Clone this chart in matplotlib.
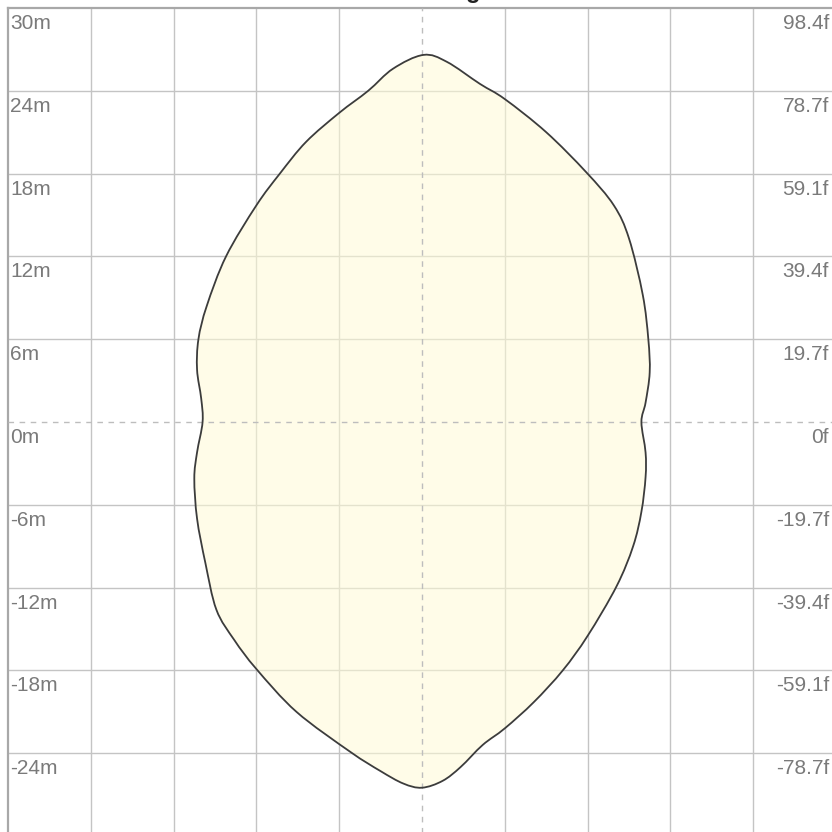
import numpy as np
import matplotlib
matplotlib.use("Agg")
import matplotlib.pyplot as plt
from matplotlib.path import Path
from matplotlib.patches import PathPatch

plt.rcParams["font.family"] = ["Liberation Sans", "DejaVu Sans"]

# Outline of the coverage shape in metres, clockwise from the top
shape_x = [0.1, 1.8, 4.2, 6.0, 9.0, 11.9, 13.9, 15.0, 16.0, 16.4, 16.5, 16.2,
           15.9, 16.2, 16.2, 15.9, 15.3, 14.1, 12.0, 10.2, 8.1, 6.0, 4.4, 2.8,
           1.5, 0.0, -1.35, -3.0, -5.2, -9.1, -12.0, -13.6, -14.9, -15.7,
           -16.3, -16.5, -16.3, -15.9, -16.0, -16.3, -16.2, -15.6, -14.2,
           -12.0, -10.3, -8.4, -6.0, -3.9, -2.1]
shape_y = [26.6, 26.1, 24.5, 23.4, 21.0, 18.1, 15.7, 13.3, 9.2, 6.0, 3.6, 1.4,
           0.0, -2.2, -4.0, -6.5, -9.0, -11.9, -15.5, -18.0, -20.3, -22.2,
           -23.4, -25.0, -26.0, -26.5, -26.2, -25.3, -23.9, -21.0, -17.9,
           -15.8, -13.6, -10.2, -7.0, -4.1, -2.2, 0.0, 1.7, 3.8, 6.0, 8.4,
           12.0, 15.7, 18.0, 20.3, 22.4, 24.0, 25.6]

# Grid rows / labels
grid_m = [24, 18, 12, 6, 0, -6, -12, -18, -24]
label_m = [30, 24, 18, 12, 6, 0, -6, -12, -18, -24]
label_m_text = ["30m", "24m", "18m", "12m", "6m", "0m", "-6m", "-12m", "-18m", "-24m"]
label_f_text = ["98.4f", "78.7f", "59.1f", "39.4f", "19.7f", "0f", "-19.7f",
                "-39.4f", "-59.1f", "-78.7f"]


def smooth_closed_path(xs, ys):
    # Catmull-Rom through the points, drawn as cubic Bezier segments
    pts = np.column_stack([xs, ys])
    n = len(pts)
    verts = [pts[0]]
    codes = [Path.MOVETO]
    for i in range(n):
        p0 = pts[(i - 1) % n]
        p1 = pts[i]
        p2 = pts[(i + 1) % n]
        p3 = pts[(i + 2) % n]
        c1 = p1 + (p2 - p0) / 6.0
        c2 = p2 - (p3 - p1) / 6.0
        verts += [c1, c2, p2]
        codes += [Path.CURVE4] * 3
    verts.append(pts[0])
    codes.append(Path.CLOSEPOLY)
    return Path(verts, codes)


fig = plt.figure(figsize=(8.32, 8.32), dpi=100)
ax = fig.add_axes([8 / 832, -4 / 832, 828 / 832, 828 / 832])
ax.set_xlim(-30, 30)
ax.set_ylim(-30, 30)
ax.set_xticks([])
ax.set_yticks([])

for s in ["left", "top"]:
    ax.spines[s].set_color("#a8a8a8")
    ax.spines[s].set_linewidth(1.6)
for s in ["right", "bottom"]:
    ax.spines[s].set_visible(False)

# Grid
for g in grid_m:
    if g == 0:
        ax.axhline(g, color="#bdbdbd", lw=1, ls=(0, (4, 4)), zorder=3)
        ax.axvline(g, color="#bdbdbd", lw=1, ls=(0, (4, 4)), zorder=3)
    else:
        ax.axhline(g, color="#c4c4c4", lw=1, zorder=1)
        ax.axvline(g, color="#c4c4c4", lw=1, zorder=1)

# Coverage shape
path = smooth_closed_path(shape_x, shape_y)
ax.add_patch(PathPatch(path, facecolor="#fffbd6", edgecolor="none", alpha=0.55, zorder=2))
ax.add_patch(PathPatch(path, facecolor="none", edgecolor="#3c3c3c", lw=1.3, zorder=4))

# Labels
px = 828 / 60.0
for m, lm, lf in zip(label_m, label_m_text, label_f_text):
    ax.text(-30 + 2 / px, m - 6 / px, lm, ha="left", va="top",
            fontsize=15, color="#7a7a7a", zorder=5)
    ax.text(30 - 7 / px, m - 6 / px, lf, ha="right", va="top",
            fontsize=15, color="#7a7a7a", zorder=5)

fig.text(0.528, 1.003, "Coverage", ha="center", va="baseline",
         fontsize=17, fontweight="bold", color="#222222")

fig.savefig("out.png", dpi=100)
